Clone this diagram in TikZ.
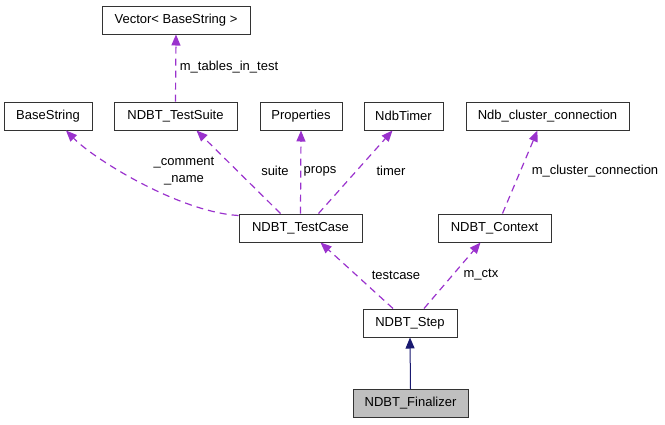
\documentclass[tikz,border=0pt]{standalone}
\usepackage{fontspec}
\setmainfont{Liberation Sans}
\usetikzlibrary{arrows.meta}
\definecolor{usecol}{HTML}{9A32CD}
\definecolor{inhcol}{HTML}{191970}
\definecolor{leafcol}{HTML}{BFBFBF}

\begin{document}
\begin{tikzpicture}[x=1pt,y=-1pt,font=\fontsize{13}{17}\selectfont]
	\tikzstyle{cls}=[draw=black!80, line width=1pt, minimum height=28pt, inner sep=0pt]
	\tikzstyle{lbl}=[inner sep=0pt, align=center]
	\tikzstyle{uses}=[usecol, line width=1.2pt, dash pattern=on 7pt off 5pt, -{Triangle[length=11pt,width=9pt]}]
	\tikzstyle{inherits}=[inhcol, line width=1pt, -{Triangle[length=11pt,width=9pt]}]
	\useasboundingbox (0,0) rectangle (665,424);
	\draw (176,20) node (vec) [cls, minimum width=148pt] {Vector< BaseString >};
	\draw (48,116) node (bstr) [cls, minimum width=88pt] {BaseString};
	\draw (175.5,116) node (suite) [cls, minimum width=123pt] {NDBT\_TestSuite};
	\draw (301,116) node (props) [cls, minimum width=82pt] {Properties};
	\draw (403.5,116) node (timer) [cls, minimum width=79pt] {NdbTimer};
	\draw (547.5,116) node (ndbconn) [cls, minimum width=163pt] {Ndb\_cluster\_connection};
	\draw (300.5,228) node (tcase) [cls, minimum width=123pt] {NDBT\_TestCase};
	\draw (494.5,228) node (ctx) [cls, minimum width=113pt] {NDBT\_Context};
	\draw (410,323) node (step) [cls, minimum width=94pt] {NDBT\_Step};
	\draw (410.5,403.5) node (fin) [cls, fill=leafcol, minimum width=115pt] {NDBT\_Finalizer};
	% member links
	\draw[uses] (suite.north) -- (vec.south);
	\draw[uses] ([yshift=-2pt]tcase.north west) .. controls (180,212) and (95,160) .. ([xshift=18pt]bstr.south);
	\draw[uses] ([xshift=-20pt]tcase.north) -- ([xshift=21pt]suite.south);
	\draw[uses] (tcase.north) -- (props.south);
	\draw[uses] ([xshift=18pt]tcase.north) -- ([xshift=-11pt]timer.south);
	\draw[uses] ([xshift=8pt]ctx.north) -- ([xshift=-10pt]ndbconn.south);
	\draw[uses] ([xshift=-17pt]step.north) -- ([xshift=20pt]tcase.south);
	\draw[uses] ([xshift=14pt]step.north) -- ([xshift=-14pt]ctx.south);
	% base class
	\draw[inherits] (fin.north) -- (step.south);
	% labels
	\draw (229,67) node (lvec) [lbl] {m\_tables\_in\_test};
	\draw (184,171.5) node (lbstr) [lbl] {\_comment\\\_name};
	\draw (275,171) node (lsuite) [lbl] {suite};
	\draw (320,171) node (lprops) [lbl] {props};
	\draw (391,171) node (ltimer) [lbl] {timer};
	\draw (595,171) node (lconn) [lbl] {m\_cluster\_connection};
	\draw (396,275) node (ltcase) [lbl] {testcase};
	\draw (481,275) node (lctx) [lbl] {m\_ctx};
\end{tikzpicture}
\end{document}
